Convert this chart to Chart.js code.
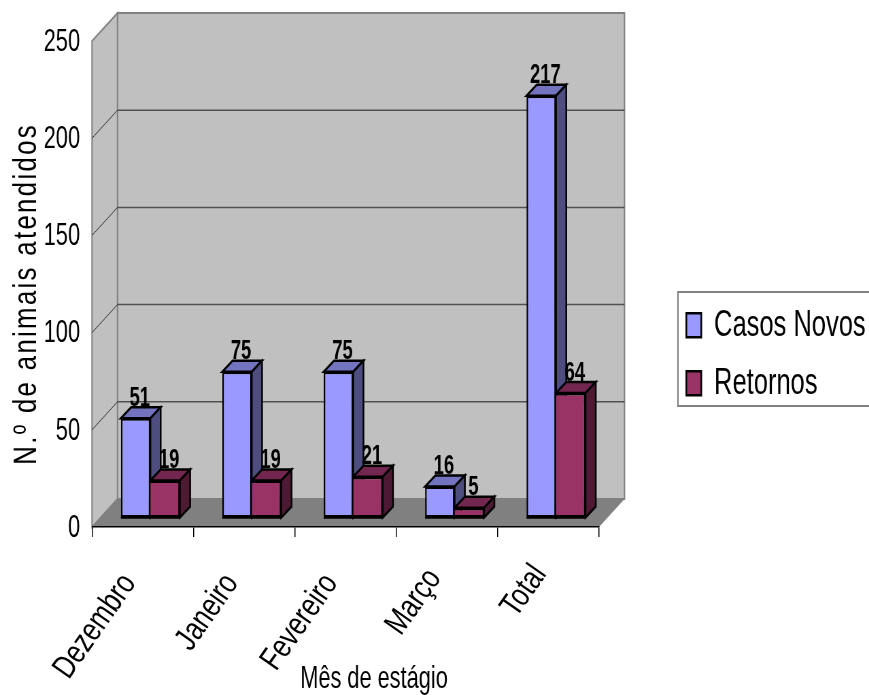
<!DOCTYPE html>
<html>
<head>
<meta charset="utf-8">
<script src="https://cdn.jsdelivr.net/npm/chart.js@4/dist/chart.umd.min.js"></script>
<style>
  html, body { margin: 0; padding: 0; background: #fff; overflow: hidden; }
  /* the chart is laid out wide, then narrowed on screen */
  #grafico { display: block; transform: scaleX(0.68); transform-origin: 0 0; }
</style>
</head>
<body>
<canvas id="grafico" width="1278" height="695"></canvas>
<script>
const meses = ["Dezembro", "Janeiro", "Fevereiro", "Março", "Total"];
const casosNovos = [51, 75, 75, 16, 217];
const retornos = [19, 19, 21, 5, 64];
const tituloX = "Mês de estágio";
const tituloY = "N.º de animais atendidos";

const estreito = 0.68; // mesma escala do CSS
const fonte = "'Liberation Sans', Arial, sans-serif";

// profundidade das paredes e deslocamento das barras dentro do piso
const parede = { dx: 37.5, dy: -28 };
const planoBarras = { dx: 11.3, dy: -9.5 };
const fundoBarra = { dx: 15.1, dy: -11 };

// pequenos acertos na posição dos rótulos girados (x, y em tela)
const acertoRotulos = [[-1, 0], [0, 0], [-2, 0], [0, -5], [4, -9]];

const coresFaces = [
  { topo: "#7373BF", lado: "#4D4D80" },
  { topo: "#732650", lado: "#4D1933" },
];

function poligono(ctx, pontos, preenchimento, traco, largura) {
  ctx.beginPath();
  pontos.forEach((p, i) => (i ? ctx.lineTo(p[0], p[1]) : ctx.moveTo(p[0], p[1])));
  ctx.closePath();
  if (preenchimento) {
    ctx.fillStyle = preenchimento;
    ctx.fill();
  }
  if (traco) {
    ctx.strokeStyle = traco;
    ctx.lineWidth = largura;
    ctx.stroke();
  }
}

// texto girado em coordenadas de tela, sem o cisalhamento do CSS
function textoGirado(ctx, texto, x, y, graus, tamanho, aperto, espaco) {
  ctx.save();
  ctx.scale(1 / estreito, 1);
  ctx.translate(x, y);
  ctx.rotate((-graus * Math.PI) / 180);
  ctx.scale(aperto, 1);
  ctx.font = tamanho + "px " + fonte;
  ctx.letterSpacing = espaco + "px";
  ctx.fillStyle = "#000";
  ctx.textAlign = "right";
  ctx.textBaseline = "alphabetic";
  ctx.fillText(texto, 0, 0);
  ctx.restore();
}

// paredes, piso e linhas de grade em perspectiva
const paredesPlugin = {
  id: "paredes",
  beforeDraw(chart) {
    const ctx = chart.ctx;
    const { left, right } = chart.chartArea;
    const y = chart.scales.y;
    const y0 = y.getPixelForValue(0);
    const yTop = y.getPixelForValue(250);
    const dx = parede.dx;
    const dy = parede.dy;

    ctx.save();
    poligono(ctx, [[left + dx, yTop + dy], [right + dx, yTop + dy], [right + dx, y0 + dy], [left + dx, y0 + dy]], "#C0C0C0", "#808080", 2);
    poligono(ctx, [[left, yTop], [left + dx, yTop + dy], [left + dx, y0 + dy], [left, y0]], "#C0C0C0", "#808080", 2);
    poligono(ctx, [[left, y0], [left + dx, y0 + dy], [right + dx, y0 + dy], [right, y0]], "#808080");

    y.ticks.forEach((t) => {
      if (t.value === 0 || t.value === 250) return;
      const py = y.getPixelForValue(t.value);
      ctx.strokeStyle = "#333";
      ctx.lineWidth = 1;
      ctx.beginPath();
      ctx.moveTo(left, py);
      ctx.lineTo(left + dx, py + dy);
      ctx.stroke();
      ctx.strokeStyle = "#505050";
      ctx.lineWidth = 1.5;
      ctx.beginPath();
      ctx.moveTo(left + dx, py + dy);
      ctx.lineTo(right + dx, py + dy);
      ctx.stroke();
    });
    ctx.restore();
  },
  afterLayout(chart) {
    // legenda fica fora da área do gráfico
    const l = chart.legend;
    l.left = 988.8;
    l.right = 1278;
    l.top = 286;
    l.bottom = 600;
  },
};

// faces de topo e lateral primeiro, a frente de cada barra vem depois
const barras3dPlugin = {
  id: "barras3d",
  beforeDatasetsDraw(chart) {
    const ctx = chart.ctx;
    const d = fundoBarra;
    ctx.save();
    ctx.translate(planoBarras.dx, planoBarras.dy);
    coresFaces.forEach((cores, i) => {
      chart.getDatasetMeta(i).data.forEach((bar) => {
        const p = bar.getProps(["x", "y", "base", "width"], true);
        const xa = p.x - p.width / 2;
        const xb = p.x + p.width / 2;
        poligono(ctx, [[xa, p.y], [xa + d.dx, p.y + d.dy], [xb + d.dx, p.y + d.dy], [xb, p.y]], cores.topo, "#000", 2.5);
        poligono(ctx, [[xb, p.y], [xb + d.dx, p.y + d.dy], [xb + d.dx, p.base + d.dy], [xb, p.base]], cores.lado, "#000", 2.5);
      });
    });
    ctx.restore();
  },
  beforeDatasetDraw(chart) {
    chart.ctx.save();
    chart.ctx.translate(planoBarras.dx, planoBarras.dy);
  },
  afterDatasetDraw(chart) {
    chart.ctx.restore();
  },
  afterDatasetsDraw(chart) {
    const ctx = chart.ctx;
    ctx.save();
    ctx.translate(planoBarras.dx, planoBarras.dy);
    ctx.font = "bold 27px " + fonte;
    ctx.textAlign = "center";
    ctx.textBaseline = "alphabetic";
    chart.data.datasets.forEach((ds, i) => {
      chart.getDatasetMeta(i).data.forEach((bar, j) => {
        const p = bar.getProps(["x", "y", "base", "width"], true);
        // linha de base da barra
        ctx.strokeStyle = "#000";
        ctx.lineWidth = 2.5;
        ctx.beginPath();
        ctx.moveTo(p.x - p.width / 2, p.base);
        ctx.lineTo(p.x + p.width / 2, p.base);
        ctx.stroke();
        ctx.fillStyle = "#000";
        ctx.fillText(String(ds.data[j]), p.x + 6, p.y + fundoBarra.dy - 1.5);
      });
    });
    ctx.restore();
  },
  afterDraw(chart) {
    const ctx = chart.ctx;
    const x = chart.scales.x;

    // rótulos de mês e títulos dos eixos
    meses.forEach((mes, i) => {
      const acerto = acertoRotulos[i];
      textoGirado(ctx, mes, x.getPixelForTick(i) * estreito - 5 + acerto[0], 583 + acerto[1], 55, 33, 0.78, 0);
    });
    textoGirado(ctx, tituloY, 36, 123, 90, 33, 0.78, 3);

    ctx.save();
    ctx.font = "32px " + fonte;
    ctx.fillStyle = "#000";
    ctx.textAlign = "center";
    ctx.textBaseline = "alphabetic";
    ctx.fillText(tituloX, 374 / estreito, 688);

    // moldura da legenda
    ctx.strokeStyle = "#808080";
    ctx.lineWidth = 2;
    ctx.strokeRect(997, 292, 300, 114);
    ctx.restore();
  },
};

new Chart(document.getElementById("grafico"), {
  type: "bar",
  data: {
    labels: meses,
    datasets: [
      {
        label: "Casos Novos",
        data: casosNovos,
        backgroundColor: "#9999FF",
        borderColor: "#000",
        borderWidth: 2.5,
        borderSkipped: false,
        clip: false,
      },
      {
        label: "Retornos",
        data: retornos,
        backgroundColor: "#993366",
        borderColor: "#000",
        borderWidth: 2.5,
        borderSkipped: "left",
        clip: false,
      },
    ],
  },
  options: {
    responsive: false,
    animation: false,
    devicePixelRatio: 1,
    layout: { padding: { top: 41, right: 397.1, left: 0, bottom: 0 } },
    categoryPercentage: 0.582,
    barPercentage: 1,
    plugins: {
      title: { display: false },
      tooltip: { enabled: false },
      legend: {
        position: "chartArea",
        align: "start",
        labels: {
          boxWidth: 22,
          boxHeight: 24,
          padding: 20.5,
          color: "#000",
          font: { family: fonte, size: 37.5 },
        },
      },
    },
    scales: {
      x: {
        afterFit(scale) {
          scale.height = 168;
        },
        border: { color: "#000", width: 1.5 },
        grid: { drawOnChartArea: false, color: "#000", tickLength: 10, lineWidth: 1.5 },
        ticks: { display: false },
      },
      y: {
        min: 0,
        max: 250,
        afterFit(scale) {
          scale.width = 135.3;
        },
        border: { display: false },
        grid: { display: false, drawTicks: false },
        ticks: {
          stepSize: 50,
          color: "#000",
          font: { family: fonte, size: 32 },
          padding: 17.6,
          labelOffset: 1,
        },
      },
    },
  },
  plugins: [paredesPlugin, barras3dPlugin],
});
</script>
</body>
</html>
